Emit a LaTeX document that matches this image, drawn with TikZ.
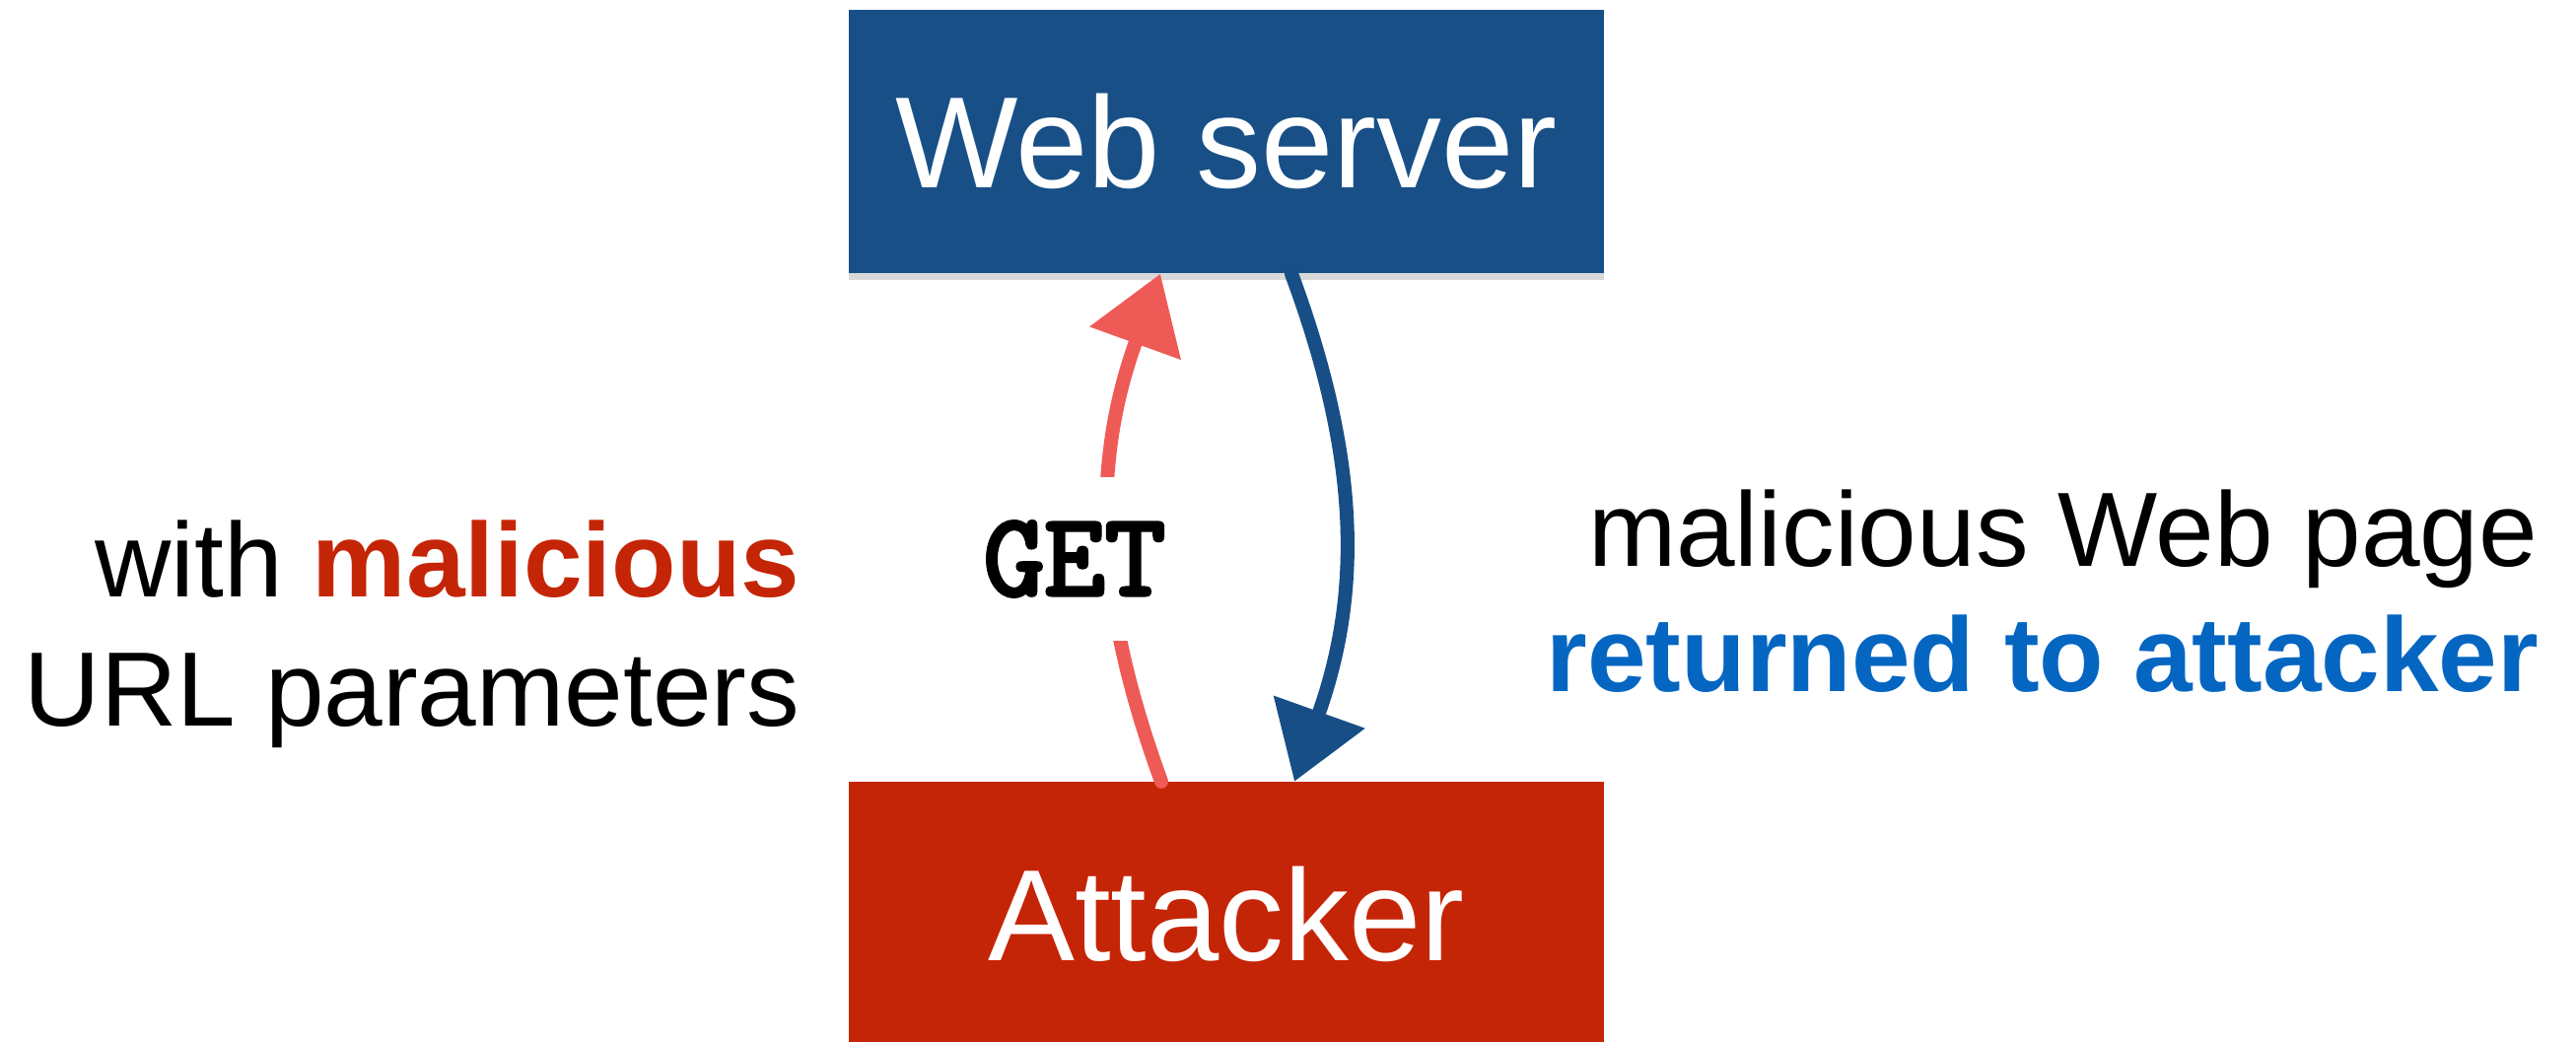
\documentclass[tikz,border=0pt]{standalone}
\usepackage{fontspec}
\setmainfont{Liberation Sans}
\newfontfamily\getfont{Latin Modern Mono}[FakeBold=3.5]
\usetikzlibrary{arrows.meta,shadows}
\definecolor{serverblue}{RGB}{24,79,134}
\definecolor{attackred}{RGB}{197,37,7}
\definecolor{arrowred}{RGB}{238,91,87}
\definecolor{arrowblue}{RGB}{23,78,134}
\definecolor{textblue}{RGB}{5,102,194}
\begin{document}
\begin{tikzpicture}[
  box/.style={minimum width=7.66cm, minimum height=2.67cm, inner sep=0pt, text=white,
    font=\fontsize{37.5pt}{45pt}\selectfont,
    drop shadow={shadow xshift=0pt, shadow yshift=-2pt, opacity=0.3}},
  side/.style={inner sep=0pt, font=\fontsize{30.5pt}{37pt}\selectfont},
  flow/.style={line width=4pt, line cap=round, -{Triangle[length=7.5mm,width=9.5mm]}, bend left=20}
]
  \useasboundingbox (0,0) rectangle (26.13,10.57);
  % boxes
  \node[box, fill=serverblue] (server) at (12.44,9.135) {Web server};
  \node[box, fill=attackred] (attacker) at (12.44,1.30) {Attacker};
  % request and response
  \draw[flow, arrowred] ([xshift=-6.6mm]attacker.north) to ([xshift=-6.7mm]server.south);
  \draw[flow, arrowblue] ([xshift=6.6mm]server.south) to ([xshift=6.9mm]attacker.north);
  \node[fill=white, inner xsep=2pt, inner ysep=4.5mm,
    font=\getfont\fontsize{34pt}{40pt}\selectfont] (get) at (10.90,4.90) {GET};
  % left text
  \node[side, anchor=base east] (with) at (8.12,4.51) {with \textcolor{attackred}{\bfseries malicious}};
  \node[side, anchor=base east] (params) at (8.12,3.20) {URL parameters};
  % right text
  \node[side, anchor=base east] (page) at (25.75,4.82) {malicious Web page};
  \node[side, anchor=base east, text=textblue] (returned) at (25.76,3.55) {\bfseries returned to attacker};
\end{tikzpicture}
\end{document}
